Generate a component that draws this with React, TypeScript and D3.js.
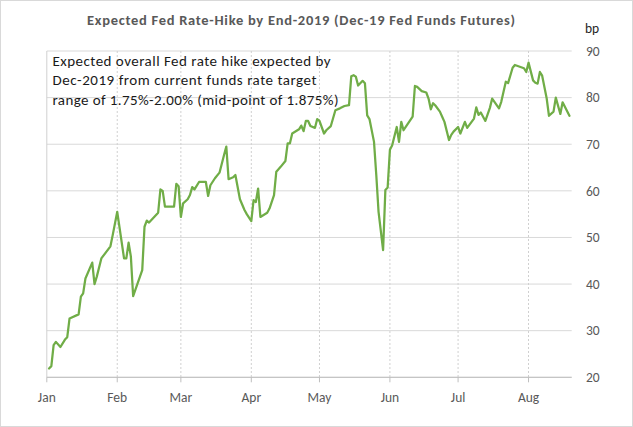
import * as d3 from "d3";

const TITLE = "Expected Fed Rate-Hike by End-2019 (Dec-19 Fed Funds Futures)";
const NOTE = [
  "Expected overall Fed rate hike expected by",
  "Dec-2019 from current funds rate target",
  "range of 1.75%-2.00% (mid-point of 1.875%)",
];
const NOTE_WIDTHS = [278, 264, 286];
const UNIT = "bp";
const MONTHS = ["Jan", "Feb", "Mar", "Apr", "May", "Jun", "Jul", "Aug"];
const Y_TICKS = [20, 30, 40, 50, 60, 70, 80, 90];

const DATES = [
  "2019-01-02", "2019-01-03", "2019-01-04", "2019-01-05", "2019-01-07", "2019-01-09",
  "2019-01-10", "2019-01-11", "2019-01-15", "2019-01-16", "2019-01-17", "2019-01-18",
  "2019-01-21", "2019-01-22", "2019-01-23", "2019-01-25", "2019-01-29", "2019-01-30",
  "2019-02-01", "2019-02-04", "2019-02-05", "2019-02-06", "2019-02-07", "2019-02-08",
  "2019-02-12", "2019-02-13", "2019-02-14", "2019-02-15", "2019-02-19", "2019-02-20",
  "2019-02-21", "2019-02-22", "2019-02-26", "2019-02-27", "2019-02-28", "2019-03-01",
  "2019-03-02", "2019-03-04", "2019-03-05", "2019-03-06", "2019-03-07", "2019-03-09",
  "2019-03-12", "2019-03-13", "2019-03-14", "2019-03-16", "2019-03-18", "2019-03-20",
  "2019-03-21", "2019-03-22", "2019-03-24", "2019-03-25", "2019-03-27", "2019-03-29",
  "2019-03-30", "2019-04-01", "2019-04-02", "2019-04-03", "2019-04-04", "2019-04-05",
  "2019-04-08", "2019-04-09", "2019-04-11", "2019-04-12", "2019-04-14", "2019-04-16",
  "2019-04-17", "2019-04-18", "2019-04-19", "2019-04-22", "2019-04-23", "2019-04-24",
  "2019-04-25", "2019-04-26", "2019-04-27", "2019-04-29", "2019-04-30", "2019-05-01",
  "2019-05-03", "2019-05-04", "2019-05-06", "2019-05-08", "2019-05-10", "2019-05-12",
  "2019-05-14", "2019-05-15", "2019-05-16", "2019-05-17", "2019-05-18", "2019-05-20",
  "2019-05-21", "2019-05-22", "2019-05-23", "2019-05-25", "2019-05-26", "2019-05-27",
  "2019-05-29", "2019-05-30", "2019-05-31", "2019-06-01", "2019-06-02", "2019-06-04",
  "2019-06-05", "2019-06-06", "2019-06-07", "2019-06-11", "2019-06-12", "2019-06-13",
  "2019-06-15", "2019-06-17", "2019-06-18", "2019-06-19", "2019-06-20", "2019-06-21",
  "2019-06-23", "2019-06-24", "2019-06-25", "2019-06-27", "2019-06-28", "2019-06-29",
  "2019-07-01", "2019-07-02", "2019-07-04", "2019-07-05", "2019-07-08", "2019-07-09",
  "2019-07-10", "2019-07-11", "2019-07-13", "2019-07-15", "2019-07-16", "2019-07-19",
  "2019-07-20", "2019-07-22", "2019-07-23", "2019-07-25", "2019-07-26", "2019-07-30",
  "2019-07-31", "2019-08-01", "2019-08-03", "2019-08-04", "2019-08-05", "2019-08-06",
  "2019-08-07", "2019-08-09", "2019-08-10", "2019-08-12", "2019-08-13", "2019-08-15",
  "2019-08-16", "2019-08-19",
];

const HIKE_BP = [
  21.9, 22.4, 26.9, 27.6, 26.5, 28.1,
  28.6, 32.6, 33.5, 37.3, 38.0, 41.2,
  44.6, 40.0, 41.6, 45.5, 48.1, 50.5,
  55.5, 45.5, 45.5, 48.9, 45.9, 37.4,
  43.0, 52.3, 53.6, 53.2, 55.3, 60.3,
  60.0, 56.6, 56.6, 61.5, 61.0, 54.4,
  57.3, 58.2, 59.1, 60.8, 60.3, 61.9,
  61.9, 58.9, 61.2, 62.7, 63.9, 67.7,
  69.5, 62.5, 62.9, 63.4, 58.2, 55.9,
  55.0, 53.5, 58.0, 57.6, 60.5, 54.4,
  55.3, 56.2, 59.1, 64.1, 65.2, 66.4,
  70.2, 70.2, 72.3, 73.2, 74.0, 72.8,
  75.0, 75.0, 73.9, 73.5, 75.4, 75.0,
  72.3, 73.0, 73.9, 77.3, 77.7, 78.2,
  78.4, 84.6, 84.8, 84.5, 82.6, 83.6,
  83.1, 76.2, 75.4, 70.5, 63.4, 55.5,
  47.3, 60.2, 60.7, 68.8, 69.8, 73.7,
  70.5, 74.8, 73.0, 75.9, 82.5, 82.3,
  81.4, 81.1, 79.8, 77.5, 78.8, 78.3,
  77.0, 75.9, 74.8, 70.9, 72.0, 72.7,
  73.7, 72.3, 74.8, 73.5, 75.5, 77.9,
  76.3, 76.8, 75.0, 77.8, 79.8, 77.7,
  79.1, 83.4, 83.1, 86.4, 87.0, 86.3,
  85.5, 87.5, 83.7, 83.2, 83.0, 85.5,
  84.7, 79.8, 76.1, 77.0, 80.0, 76.5,
  79.0, 76.1,
];

const W = 633;
const H = 427;
const FONT = "Carlito, Calibri, Lato, 'Open Sans', sans-serif";
const GREY = "#595959";

export default function App() {
  const parse = d3.timeParse("%Y-%m-%d");
  const data = DATES.map((d, i) => ({ date: parse(d) as Date, value: HIKE_BP[i] }));

  const start = new Date(2019, 0, 1);
  const end = new Date(2019, 7, 20);
  const x = d3.scaleTime().domain([start, end]).range([46.8, 571.7]);
  const y = d3.scaleLinear().domain([20, 90]).range([377.3, 51]);

  const monthTicks = d3.timeMonth.range(start, new Date(2019, 7, 2));

  const path = d3
    .line<{ date: Date; value: number }>()
    .x((d) => x(d.date))
    .y((d) => y(d.value))(data);

  const [x0, x1] = x.range();
  const [y0, y1] = y.range();

  return (
    <div style={{ position: "fixed", left: 0, top: 0 }}>
      <svg width={W} height={H} style={{ display: "block", fontFamily: FONT }}>
        <rect x={0.5} y={0.5} width={W - 1} height={H - 1} fill="#fff" stroke="#d9d9d9" />

        <text
          x={87}
          y={25}
          fontSize={14.5}
          fontWeight="bold"
          fill={GREY}
          textLength={428}
          lengthAdjust="spacing"
        >
          {TITLE}
        </text>

        {/* horizontal grid */}
        {Y_TICKS.map((t) => (
          <line key={t} x1={x0} x2={x1} y1={y(t)} y2={y(t)} stroke="#d9d9d9" strokeWidth={1} />
        ))}
        {/* vertical grid */}
        {monthTicks.map((m, i) =>
          i === 0 ? null : (
            <line
              key={+m}
              x1={x(m)}
              x2={x(m)}
              y1={y1}
              y2={y0}
              stroke="#d0d0d0"
              strokeDasharray="2 2"
            />
          ),
        )}
        <line x1={x0} x2={x0} y1={y1} y2={y0} stroke="#d0d0d0" />

        {/* x axis */}
        <line x1={x0} x2={x1} y1={y0} y2={y0} stroke="#bfbfbf" />
        {monthTicks.map((m, i) => (
          <g key={+m} transform={`translate(${x(m)},0)`}>
            <line y1={y0} y2={y0 + 5} stroke="#bfbfbf" />
            <text y={401.5} textAnchor="middle" fontSize={13.5} fill={GREY}>
              {MONTHS[i]}
            </text>
          </g>
        ))}

        {/* right axis labels */}
        {Y_TICKS.map((t) => (
          <text key={t} x={586} y={y(t)} dy="0.35em" fontSize={13.5} fill={GREY}>
            {t}
          </text>
        ))}
        <text x={585} y={33} fontSize={13.5} fill="#262626">
          {UNIT}
        </text>

        {/* note */}
        {NOTE.map((s, i) => (
          <text
            key={i}
            x={52.5}
            y={66 + i * 19.3}
            fontSize={15}
            fill="#1a1a1a"
            textLength={NOTE_WIDTHS[i]}
            lengthAdjust="spacing"
          >
            {s}
          </text>
        ))}

        <path
          d={path ?? ""}
          fill="none"
          stroke="#70ad47"
          strokeWidth={2.25}
          strokeLinejoin="round"
          strokeLinecap="round"
        />
      </svg>
    </div>
  );
}
